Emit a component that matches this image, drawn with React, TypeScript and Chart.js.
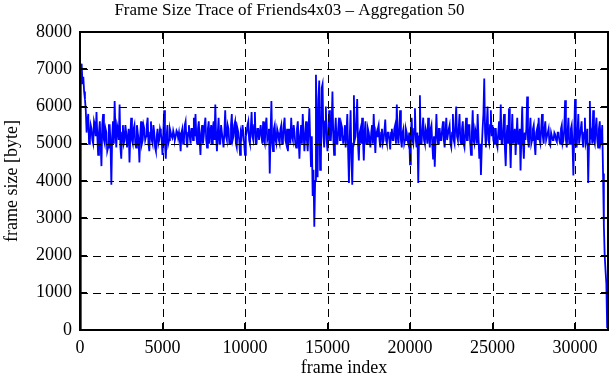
import React, { useEffect, useRef } from 'react';
import { Chart, registerables } from 'chart.js';

Chart.register(...registerables);

const TITLE = 'Frame Size Trace of Friends4x03 \u2013 Aggregation 50';
const X_LABEL = 'frame index';
const Y_LABEL = 'frame size [byte]';
const FRAME_STEP = 50;
const X_MAX = 32000;
const Y_MAX = 8000;
const X_TICKS = [0, 5000, 10000, 15000, 20000, 25000, 30000];
const Y_TICKS = [0, 1000, 2000, 3000, 4000, 5000, 6000, 7000, 8000];

// one row = 1000 frames (20 aggregated values of 50 frames)
const FRAME_SIZES = [
  0, 6900, 7150, 6600, 6800, 6400, 6200, 5900, 5300, 5600, 5800, 5000, 5100, 5500, 5400, 5100, 5000, 5600, 5500, 5200,
  5850, 5200, 4700, 5300, 5600, 5000, 4400, 5500, 5800, 5100, 5000, 5400, 5300, 4800, 4900, 5500, 5500, 5000, 3900, 5200,
  5600, 5000, 6150, 5300, 4900, 5500, 5400, 5100, 6050, 4900, 4600, 5300, 5500, 5000, 5100, 5500, 5300, 4900, 4900, 5400,
  4500, 5200, 5700, 5100, 5000, 5400, 5500, 5000, 4900, 5500, 5300, 5100, 4500, 5200, 5600, 5000, 5100, 5500, 5400, 5100,
  5200, 5500, 5700, 5000, 4800, 5300, 5600, 5100, 5000, 5500, 5300, 4900, 4800, 5200, 5400, 5000, 5100, 5400, 5300, 5100,
  4700, 5300, 5900, 5000, 4600, 5200, 5500, 5000, 5100, 5400, 5300, 5200, 5150, 5350, 5250, 5100, 5200, 5350, 5300, 5150,
  5300, 5100, 4800, 5300, 5400, 5000, 5100, 5500, 5600, 5100, 4900, 5300, 5500, 5200, 5000, 5400, 5400, 5100, 5700, 5200,
  5800, 5200, 5000, 5400, 5600, 5100, 4700, 5300, 5500, 5000, 5200, 5500, 5700, 5100, 4900, 5400, 5600, 5000, 5300, 5500,
  5000, 5400, 5600, 5100, 6050, 5200, 4800, 5300, 5700, 5000, 5000, 5500, 5500, 5100, 4900, 5300, 5900, 5200, 5100, 5500,
  5400, 5000, 5000, 5500, 5800, 5100, 5200, 5500, 5600, 5000, 4900, 5400, 5300, 5100, 4700, 5300, 5200, 5500, 5300, 5000,
  4700, 5200, 5300, 5500, 5600, 5100, 5000, 5400, 5850, 5200, 5100, 5500, 5850, 5000, 5000, 5400, 5400, 5100, 5100, 5500,
  5200, 5000, 5600, 5100, 5000, 5500, 5700, 5100, 5200, 5400, 4200, 5300, 6150, 5000, 4800, 5400, 5500, 5100, 5000, 5400,
  5300, 5100, 5000, 5400, 5500, 5000, 5100, 5500, 5700, 5100, 5000, 5400, 4800, 5200, 5400, 5000, 5700, 5200, 5100, 5500,
  5300, 5000, 4900, 5400, 5600, 5100, 4600, 5200, 5500, 5000, 5800, 5300, 4800, 5200, 5600, 5100, 4800, 5400, 5950, 5100,
  4400, 5200, 3600, 4300, 2770, 4000, 6850, 5500, 4100, 6200, 6700, 4300, 4500, 6500, 6600, 5200, 4900, 5600, 6000, 5100,
  4800, 5300, 5900, 5100, 5100, 5500, 6400, 5200, 4700, 5300, 5700, 5000, 5000, 5400, 5700, 5100, 5100, 5500, 5400, 5000,
  5200, 5500, 4900, 5300, 5800, 4800, 3950, 5200, 5900, 4600, 3900, 5000, 6300, 5100, 5200, 5600, 6200, 5000, 4550, 5300,
  5400, 5000, 5700, 5100, 4550, 5300, 5600, 5000, 5000, 5400, 5300, 5100, 4900, 5300, 5500, 5000, 5800, 5200, 4750, 5300,
  5200, 5400, 5500, 5100, 4900, 5300, 5400, 5000, 5100, 5350, 5650, 5100, 5000, 5300, 5300, 5100, 4850, 5300, 5400, 5100,
  5100, 5400, 5500, 5000, 6050, 5200, 5000, 5400, 5900, 5100, 4900, 5300, 5400, 5000, 5100, 5400, 5300, 5100, 5000, 5300,
  4450, 5200, 5700, 5100, 5000, 5400, 5950, 5100, 4900, 5300, 3950, 5200, 6300, 5000, 5000, 5400, 5700, 5100, 5000, 5400,
  5300, 5000, 5700, 5200, 4900, 5400, 5500, 5000, 4600, 5200, 4380, 5100, 5800, 5200, 5000, 5400, 5400, 5100, 5100, 5400,
  5600, 5100, 4900, 5300, 5700, 5100, 5100, 5400, 5500, 5000, 4900, 5300, 5800, 5100, 5000, 5500, 6000, 5200, 5100, 5400,
  5800, 5100, 5000, 5400, 5600, 5000, 4900, 5300, 5700, 5100, 5100, 5500, 5500, 5000, 4700, 5300, 5900, 5100, 5000, 5400,
  5300, 5000, 5800, 5200, 4600, 5000, 4160, 4900, 5400, 5800, 6750, 5300, 4900, 5500, 6000, 5100, 5000, 5500, 5900, 5200,
  5500, 5100, 5000, 5400, 5400, 5000, 4900, 5300, 5600, 5100, 6050, 5000, 5000, 5400, 5800, 4900, 4400, 5200, 5500, 5000,
  5950, 5100, 4350, 5200, 5800, 5000, 5000, 5400, 4700, 5200, 5700, 5000, 5100, 5400, 4280, 5200, 6000, 5000, 4600, 5300,
  5100, 5400, 6270, 5100, 4900, 5300, 5700, 5000, 5100, 5400, 5500, 5000, 4700, 5300, 5400, 5100, 5700, 5100, 5000, 5400,
  5800, 5200, 5000, 5400, 5600, 5100, 5100, 5300, 5400, 5000, 4950, 5300, 5300, 5100, 5100, 5300, 5250, 5100, 5050, 5300,
  5300, 5100, 5000, 5400, 5500, 5000, 5100, 5400, 6170, 5100, 4900, 5300, 5700, 5000, 5000, 5400, 5500, 5000, 4150, 5200,
  6200, 5100, 4900, 5300, 5800, 5000, 5000, 5400, 5600, 5100, 4900, 5300, 5700, 5000, 5100, 5400, 3950, 5000, 6150, 5200,
  5300, 5000, 5900, 5100, 5000, 5400, 5700, 5100, 4900, 5400, 5600, 5000, 5100, 5500, 4200, 2800, 2000, 1600, 1250, 50,
];

const FONT_FAMILY = "'Liberation Serif', 'Times New Roman', serif";

const gnuplotFrame = {
  id: 'gnuplotFrame',
  afterLayout(chart: any) {
    const tb = chart.titleBlock;
    if (tb) {
      tb.left = 0;
      tb.right = 579;
      tb.width = 579;
    }
  },
  afterDatasetsDraw(chart: any) {
    const { ctx, chartArea, scales } = chart;
    const { left, right, top, bottom } = chartArea;
    const xs = scales.x;
    const ys = scales.y;
    ctx.save();
    ctx.strokeStyle = '#000';
    ctx.lineWidth = 1;
    ctx.setLineDash([8, 5]);
    X_TICKS.forEach((v) => {
      if (v <= 0 || v >= X_MAX) return;
      const px = Math.round(xs.getPixelForValue(v)) + 0.5;
      ctx.beginPath();
      ctx.moveTo(px, bottom);
      ctx.lineTo(px, top);
      ctx.stroke();
    });
    Y_TICKS.forEach((v) => {
      if (v <= 0 || v >= Y_MAX) return;
      const py = Math.round(ys.getPixelForValue(v)) + 0.5;
      ctx.beginPath();
      ctx.moveTo(left, py);
      ctx.lineTo(right, py);
      ctx.stroke();
    });
    ctx.setLineDash([]);
    ctx.lineWidth = 2;
    const tl = 7;
    X_TICKS.forEach((v) => {
      const px = Math.round(xs.getPixelForValue(v));
      ctx.beginPath();
      ctx.moveTo(px, bottom);
      ctx.lineTo(px, bottom - tl);
      ctx.moveTo(px, top);
      ctx.lineTo(px, top + tl);
      ctx.stroke();
    });
    Y_TICKS.forEach((v) => {
      const py = Math.round(ys.getPixelForValue(v));
      ctx.beginPath();
      ctx.moveTo(left, py);
      ctx.lineTo(left + tl, py);
      ctx.moveTo(right, py);
      ctx.lineTo(right - tl, py);
      ctx.stroke();
    });
    ctx.strokeRect(left, top, right - left, bottom - top);
    ctx.restore();
  },
};

export default function App() {
  const canvasRef = useRef<HTMLCanvasElement | null>(null);

  useEffect(() => {
    const canvas = canvasRef.current;
    if (!canvas) return;
    const points = FRAME_SIZES.map((v, i) => ({ x: i * FRAME_STEP, y: v }));
    const chart = new Chart(canvas, {
      type: 'line',
      data: {
        datasets: [
          {
            data: points,
            borderColor: '#0000ff',
            borderWidth: 1.8,
            pointRadius: 0,
            tension: 0,
            fill: false,
          },
        ],
      },
      plugins: [gnuplotFrame],
      options: {
        responsive: false,
        animation: false,
        events: [],
        layout: { padding: { left: 0, right: 3, top: 0, bottom: 0 } },
        plugins: {
          legend: { display: false },
          tooltip: { enabled: false },
          title: {
            display: true,
            text: TITLE,
            color: '#000',
            font: { family: FONT_FAMILY, size: 17, weight: 'normal' },
            padding: { top: 0, bottom: 11.6 },
          },
        },
        scales: {
          x: {
            type: 'linear',
            min: 0,
            max: X_MAX,
            afterBuildTicks: (scale: any) => {
              scale.ticks = X_TICKS.map((v) => ({ value: v }));
            },
            afterFit: (scale: any) => {
              scale.height = 50;
            },
            grid: { display: false, drawTicks: false },
            border: { display: false },
            ticks: {
              color: '#000',
              font: { family: FONT_FAMILY, size: 18 },
              padding: 7,
              maxRotation: 0,
              autoSkip: false,
              callback: (v: any) => String(v),
            },
            title: {
              display: true,
              text: X_LABEL,
              color: '#000',
              font: { family: FONT_FAMILY, size: 18 },
              padding: { top: 0, bottom: 0.5 },
            },
          },
          y: {
            type: 'linear',
            min: 0,
            max: Y_MAX,
            afterBuildTicks: (scale: any) => {
              scale.ticks = Y_TICKS.map((v) => ({ value: v }));
            },
            afterFit: (scale: any) => {
              scale.width = 80;
            },
            grid: { display: false, drawTicks: false },
            border: { display: false },
            ticks: {
              color: '#000',
              font: { family: FONT_FAMILY, size: 18 },
              padding: 8,
              autoSkip: false,
              callback: (v: any) => String(v),
            },
            title: {
              display: true,
              text: Y_LABEL,
              color: '#000',
              font: { family: FONT_FAMILY, size: 18 },
              padding: { top: 1, bottom: 0 },
            },
          },
        },
      },
    });
    return () => chart.destroy();
  }, []);

  return (
    <div style={{ position: 'absolute', left: 0, top: 0, width: 611, height: 380, background: '#fff' }}>
      <canvas ref={canvasRef} width={611} height={380} style={{ display: 'block' }} />
    </div>
  );
}
